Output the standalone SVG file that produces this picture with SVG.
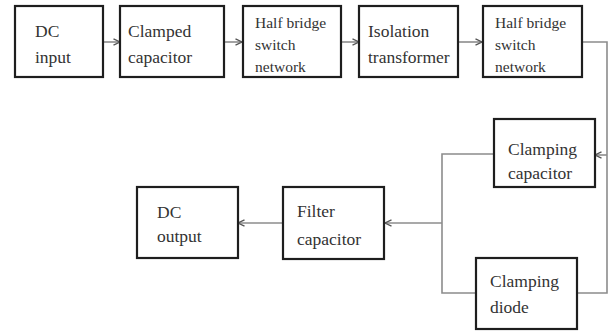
<svg xmlns="http://www.w3.org/2000/svg" width="611" height="333" viewBox="0 0 611 333">
  <defs>
    <marker id="arrow" viewBox="0 0 8 8" refX="7.5" refY="4" markerWidth="8" markerHeight="8" markerUnits="userSpaceOnUse" orient="auto">
      <path d="M1,0.8 L7.5,4 L1,7.2" fill="none" stroke="#555" stroke-width="1.3"/>
    </marker>
    <style>
      .box { fill: #ffffff; stroke: #1e1e1e; stroke-width: 2.2; }
      .lbl { font-family: "Liberation Serif", "Times New Roman", serif; font-size: 17.5px; fill: #333333; }
      .sm { font-size: 15.5px; }
      .wire { fill: none; stroke: #8c8c8c; stroke-width: 1.6; }
      .arr { marker-end: url(#arrow); }
    </style>
  </defs>
  <rect width="611" height="333" fill="#ffffff"/>

  <!-- connectors -->
  <g id="connectors">
    <path class="wire arr" d="M103,42 H120"/>
    <path class="wire arr" d="M224,42 H242"/>
    <path class="wire arr" d="M341,42 H359"/>
    <path class="wire arr" d="M458,42 H482"/>
    <!-- output of second switch network feeds the clamp pair -->
    <path class="wire" d="M582,42 H607 V293 H577"/>
    <path class="wire arr" d="M607,155 H595"/>
    <!-- clamp pair joins and feeds the filter -->
    <path class="wire" d="M494,154 H442 V293 H476"/>
    <path class="wire arr" d="M442,223 H385"/>
    <path class="wire arr" d="M283,223 H238"/>
  </g>

  <g id="dc-input">
    <rect class="box" x="15" y="6" width="88" height="71"/>
    <text class="lbl" x="35" y="37">DC</text>
    <text class="lbl" x="35" y="63">input</text>
  </g>

  <g id="clamped-capacitor">
    <rect class="box" x="120" y="6" width="104" height="71"/>
    <text class="lbl" x="128" y="37">Clamped</text>
    <text class="lbl" x="128" y="63">capacitor</text>
  </g>

  <g id="half-bridge-1">
    <rect class="box" x="243" y="6" width="98" height="71"/>
    <text class="lbl sm" x="255" y="28">Half bridge</text>
    <text class="lbl sm" x="255" y="50">switch</text>
    <text class="lbl sm" x="255" y="72">network</text>
  </g>

  <g id="isolation-transformer">
    <rect class="box" x="359" y="6" width="99" height="71"/>
    <text class="lbl" x="368" y="37">Isolation</text>
    <text class="lbl" x="368" y="63">transformer</text>
  </g>

  <g id="half-bridge-2">
    <rect class="box" x="483" y="6" width="99" height="71"/>
    <text class="lbl sm" x="495" y="28">Half bridge</text>
    <text class="lbl sm" x="495" y="50">switch</text>
    <text class="lbl sm" x="495" y="72">network</text>
  </g>

  <g id="clamping-capacitor">
    <rect class="box" x="494" y="119" width="101" height="68"/>
    <text class="lbl" x="508" y="155">Clamping</text>
    <text class="lbl" x="508" y="179">capacitor</text>
  </g>

  <g id="clamping-diode">
    <rect class="box" x="476" y="258" width="101" height="71"/>
    <text class="lbl" x="490" y="287">Clamping</text>
    <text class="lbl" x="490" y="313">diode</text>
  </g>

  <g id="filter-capacitor">
    <rect class="box" x="283" y="187" width="101" height="72"/>
    <text class="lbl" x="297" y="217">Filter</text>
    <text class="lbl" x="297" y="245">capacitor</text>
  </g>

  <g id="dc-output">
    <rect class="box" x="137" y="187" width="101" height="71"/>
    <text class="lbl" x="157" y="218">DC</text>
    <text class="lbl" x="157" y="242">output</text>
  </g>
</svg>
